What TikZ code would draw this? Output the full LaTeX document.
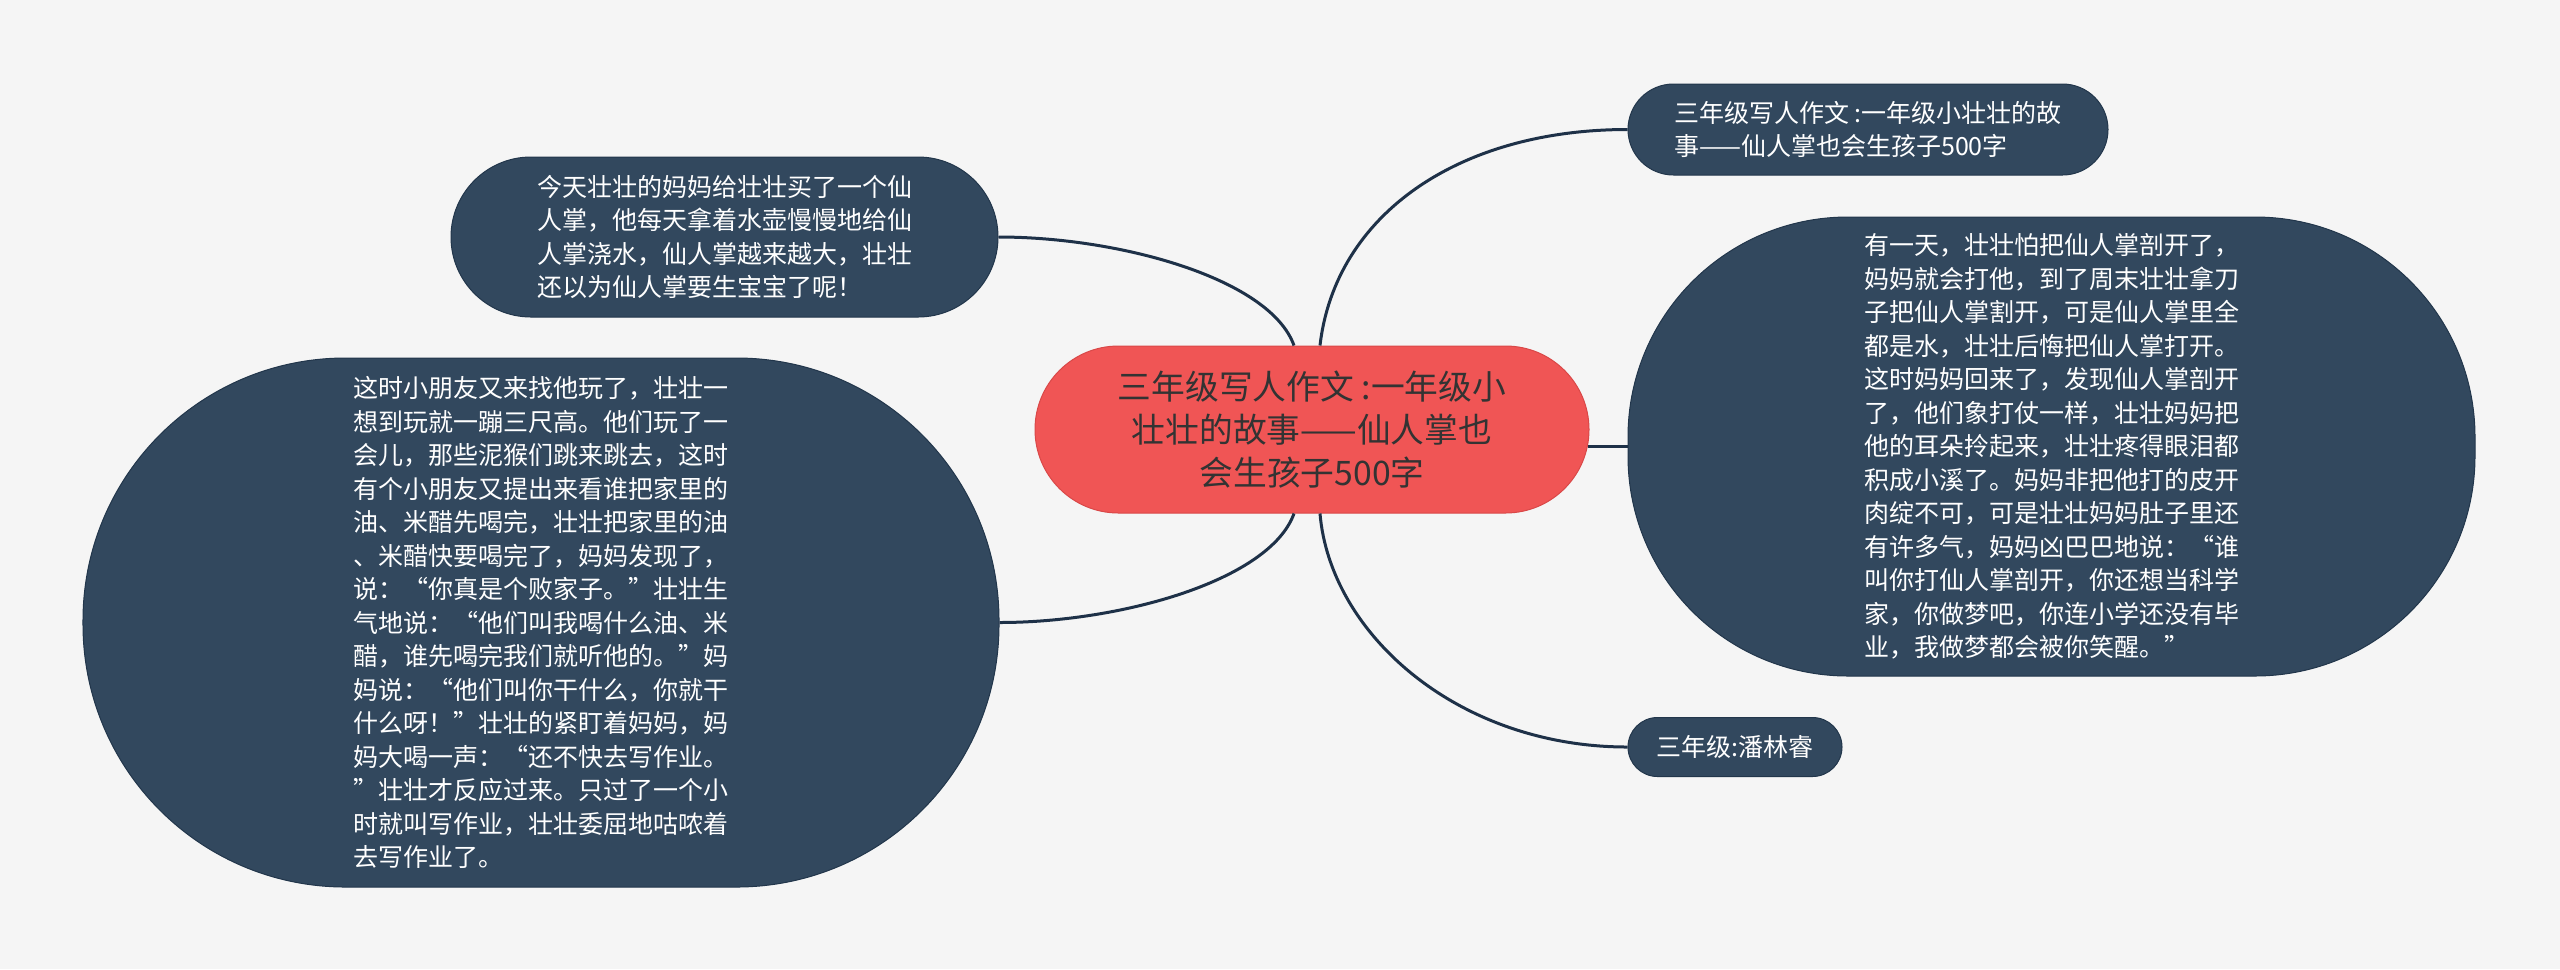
\documentclass[tikz,border=0pt]{standalone}
\usepackage{fontspec}
\setmainfont{Noto Sans CJK SC}
\newfontfamily\fullwd[CharacterWidth=Full]{Noto Sans CJK SC}
\definecolor{bgc}{HTML}{F5F5F5}
\definecolor{slate}{HTML}{32485E}
\definecolor{slateln}{HTML}{22364B}
\definecolor{coral}{HTML}{F05555}
\definecolor{coralln}{HTML}{D94848}
\definecolor{linkc}{HTML}{1E3148}
\def\link{\draw[linkc,line width=1.2pt]}

\begin{document}
\begin{tikzpicture}[x=0.4pt,y=-0.4pt,
  topic/.style={fill=coral,draw=coralln,line width=0.4pt,text=black!80,align=center,
    inner sep=0pt,font=\fontsize{13.5pt}{17.2pt}\selectfont},
  leaf/.style={fill=slate,draw=slateln,line width=0.4pt,text=white,align=left,
    inner sep=0pt,font=\fontsize{10pt}{13.4pt}\selectfont}]
\fill[bgc] (0,0) rectangle (2560,969);
\useasboundingbox (0,0) rectangle (2560,969);

% centre
\node[topic,minimum width=221.6pt,minimum height=66.8pt,rounded corners=33.4pt]
  (story) at (1312,429.5) {三年级写人作文 :一年级小\\壮壮的故事——仙人掌也\\会生孩子500字};

% left side
\node[leaf,minimum width=218.8pt,minimum height=64pt,rounded corners=32pt]
  (gift) at (724.5,237) {\fullwd 今天壮壮的妈妈给壮壮买了一个仙\\\fullwd 人掌，他每天拿着水壶慢慢地给仙\\\fullwd 人掌浇水，仙人掌越来越大，壮壮\\\fullwd 还以为仙人掌要生宝宝了呢！};
\node[leaf,minimum width=366.4pt,minimum height=211.6pt,rounded corners=105pt]
  (play) at (541,622.5) {\fullwd 这时小朋友又来找他玩了，壮壮一\\
  \fullwd 想到玩就一蹦三尺高。他们玩了一\\
  \fullwd 会儿，那些泥猴们跳来跳去，这时\\
  \fullwd 有个小朋友又提出来看谁把家里的\\
  \fullwd 油、米醋先喝完，壮壮把家里的油\\
  \fullwd 、米醋快要喝完了，妈妈发现了，\\
  \fullwd 说：“你真是个败家子。”壮壮生\\
  \fullwd 气地说：“他们叫我喝什么油、米\\
  \fullwd 醋，谁先喝完我们就听他的。”妈\\
  \fullwd 妈说：“他们叫你干什么，你就干\\
  \fullwd 什么呀！”壮壮的紧盯着妈妈，妈\\
  \fullwd 妈大喝一声：“还不快去写作业。\\
  \fullwd ”壮壮才反应过来。只过了一个小\\
  \fullwd 时就叫写作业，壮壮委屈地咕哝着\\
  \fullwd 去写作业了。};

% right side
\node[leaf,minimum width=192pt,minimum height=36.4pt,rounded corners=18.2pt]
  (title) at (1868,129.5) {三年级写人作文 :一年级小壮壮的故\\事——仙人掌也会生孩子500字};
\node[leaf,minimum width=338.8pt,minimum height=183.6pt,rounded corners=88pt]
  (fight) at (2051.5,446.5) {\fullwd 有一天，壮壮怕把仙人掌剖开了，\\
  \fullwd 妈妈就会打他，到了周末壮壮拿刀\\
  \fullwd 子把仙人掌割开，可是仙人掌里全\\
  \fullwd 都是水，壮壮后悔把仙人掌打开。\\
  \fullwd 这时妈妈回来了，发现仙人掌剖开\\
  \fullwd 了，他们象打仗一样，壮壮妈妈把\\
  \fullwd 他的耳朵拎起来，壮壮疼得眼泪都\\
  \fullwd 积成小溪了。妈妈非把他打的皮开\\
  \fullwd 肉绽不可，可是壮壮妈妈肚子里还\\
  \fullwd 有许多气，妈妈凶巴巴地说：“谁\\
  \fullwd 叫你打仙人掌剖开，你还想当科学\\
  \fullwd 家，你做梦吧，你连小学还没有毕\\
  \fullwd 业，我做梦都会被你笑醒。”};
\node[leaf,minimum width=85.6pt,minimum height=23.6pt,rounded corners=11.8pt]
  (author) at (1735,747) {三年级:潘林睿};

% links
\link ([xshift=-7.2pt]story.north) .. controls +(-24,-67) and +(121,0) .. (gift.east);
\link ([xshift=-7.2pt]story.south) .. controls +(-24,67) and +(121,0) .. (play.east);
\link ([xshift=3.2pt]story.north) .. controls +(15,-130) and +(-170,0) .. (title.west);
\link ([xshift=3.2pt]story.south) .. controls +(10,120) and +(-170,0) .. (author.west);
\link (fight.west) -- ([xshift=-0.8pt]fight.west -| story.east);
\end{tikzpicture}
\end{document}
